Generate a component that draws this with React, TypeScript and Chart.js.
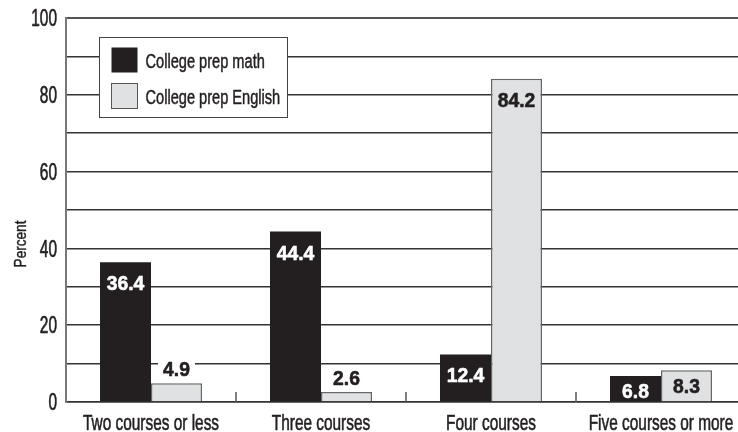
import React, { useEffect, useRef } from "react";
import { Chart, registerables } from "chart.js";

Chart.register(...registerables);

const categories = ["Two courses or less", "Three courses", "Four courses", "Five courses or more"];
const mathValues = [36.4, 44.4, 12.4, 6.8];
const englishValues = [4.9, 2.6, 84.2, 8.3];
const seriesNames = ["College prep math", "College prep English"];
const yTicks = [0, 20, 40, 60, 80, 100];
const yTitle = "Percent";

const FONT = '"Liberation Sans", Arial, sans-serif';
const INK = "#231f20";
const MATH_COLOR = "#231f20";
const ENGLISH_COLOR = "#e0e1e3";
const CAP = 0.716;

// draw condensed text: baseline at y (alphabetic)
function condText(
  ctx: CanvasRenderingContext2D,
  text: string,
  x: number,
  y: number,
  size: number,
  k: number,
  align: CanvasTextAlign,
  bold = false,
  rotate = 0,
  weight = 0.5
) {
  ctx.save();
  ctx.translate(x, y);
  if (rotate) ctx.rotate(rotate);
  ctx.scale(k, 1);
  ctx.font = `${bold ? "bold " : ""}${size}px ${FONT}`;
  ctx.textAlign = align;
  ctx.textBaseline = "alphabetic";
  ctx.fillText(text, 0, 0);
  if (weight > 0) {
    ctx.strokeStyle = ctx.fillStyle as string;
    ctx.lineWidth = weight;
    ctx.lineJoin = "round";
    ctx.strokeText(text, 0, 0);
  }
  ctx.restore();
}

function condWidth(ctx: CanvasRenderingContext2D, text: string, size: number, k: number, bold = false) {
  ctx.save();
  ctx.font = `${bold ? "bold " : ""}${size}px ${FONT}`;
  const w = ctx.measureText(text).width * k;
  ctx.restore();
  return w;
}

const axisText = {
  id: "axisText",
  afterDraw(chart: any) {
    const ctx = chart.ctx;
    const ys = chart.scales.y;
    const xs = chart.scales.x;
    const { left, bottom, top } = chart.chartArea;
    ctx.save();
    ctx.fillStyle = INK;
    const ty = 23;
    yTicks.forEach((v) => {
      const py = ys.getPixelForValue(v);
      condText(ctx, String(v), left - 9, py + (ty * CAP) / 2, ty, 0.67, "right", false, 0, 0.7);
    });
    categories.forEach((c, i) => {
      const px = xs.getPixelForValue(i);
      condText(ctx, c, px, bottom + 28, 22, 0.7, "center", false, 0, 0.6);
    });
    const midY = (top + bottom) / 2 + 34;
    condText(ctx, yTitle, 20.5 + (16 * CAP) / 2, midY, 16, 0.85, "center", false, -Math.PI / 2, 0.4);
    ctx.restore();
  },
};

const valueLabels = {
  id: "valueLabels",
  afterDatasetsDraw(chart: any) {
    const ctx = chart.ctx;
    const size = 21;
    const k = 0.92;
    ctx.save();
    chart.data.datasets.forEach((ds: any, di: number) => {
      const meta = chart.getDatasetMeta(di);
      meta.data.forEach((bar: any, i: number) => {
        const v = ds.data[i];
        const text = v.toFixed(1);
        const h = bar.base - bar.y;
        if (h >= 24) {
          const cy = bar.y + Math.min(20.5, Math.max(15, h / 2));
          ctx.fillStyle = di === 0 ? "#ffffff" : INK;
          condText(ctx, text, bar.x, cy + (size * CAP) / 2, size, k, "center", true, 0, 0.6);
        } else {
          const cy = bar.y - 15;
          const w = condWidth(ctx, text, size, k, true);
          ctx.fillStyle = "#ffffff";
          ctx.fillRect(bar.x - w / 2 - 5, cy - 10, w + 10, 20);
          ctx.fillStyle = INK;
          condText(ctx, text, bar.x, cy + (size * CAP) / 2, size, k, "center", true, 0, 0.6);
        }
      });
    });
    // category boundary tick marks (inward)
    const xs = chart.scales.x;
    const bottom = chart.chartArea.bottom;
    ctx.strokeStyle = "#555";
    ctx.lineWidth = 1.5;
    for (let i = 0; i < categories.length - 1; i++) {
      const x = (xs.getPixelForValue(i) + xs.getPixelForValue(i + 1)) / 2;
      ctx.beginPath();
      ctx.moveTo(x, bottom - 10);
      ctx.lineTo(x, bottom);
      ctx.stroke();
    }
    ctx.restore();
  },
};

const boxLegend = {
  id: "boxLegend",
  afterDraw(chart: any) {
    const ctx = chart.ctx;
    const { left, top } = chart.chartArea;
    const bx = left + 33.5;
    const by = top + 19.5;
    ctx.save();
    ctx.fillStyle = "#ffffff";
    ctx.fillRect(bx, by, 188, 80);
    ctx.strokeStyle = "#444";
    ctx.lineWidth = 1;
    ctx.strokeRect(bx, by, 188, 80);
    const colors = [MATH_COLOR, ENGLISH_COLOR];
    chart.data.datasets.forEach((ds: any, i: number) => {
      const sy = by + 10 + i * 36;
      ctx.fillStyle = colors[i];
      ctx.fillRect(bx + 12, sy, 26, 25);
      if (i === 1) {
        ctx.strokeStyle = "#555";
        ctx.lineWidth = 1;
        ctx.strokeRect(bx + 12, sy, 26, 25);
      }
      ctx.fillStyle = INK;
      const s = 20;
      condText(ctx, ds.label, bx + 46, sy + 12.5 + (s * CAP) / 2 + 0.5, s, 0.73, "left", false, 0, 0.5);
    });
    ctx.restore();
  },
};

export default function App() {
  const ref = useRef<HTMLCanvasElement | null>(null);
  useEffect(() => {
    if (!ref.current) return;
    const chart = new Chart(ref.current, {
      type: "bar",
      data: {
        labels: categories,
        datasets: [
          {
            label: seriesNames[0],
            data: mathValues,
            backgroundColor: MATH_COLOR,
            borderColor: MATH_COLOR,
            borderWidth: 0,
            barPercentage: 1,
            categoryPercentage: 0.6,
          },
          {
            label: seriesNames[1],
            data: englishValues,
            backgroundColor: ENGLISH_COLOR,
            borderColor: "#666",
            borderWidth: 1.5,
            barPercentage: 1,
            categoryPercentage: 0.6,
          },
        ],
      },
      options: {
        responsive: false,
        animation: false,
        devicePixelRatio: 1,
        layout: { padding: { left: 0, top: 18, right: 4, bottom: 0 } },
        plugins: {
          legend: { display: false },
          tooltip: { enabled: false },
        },
        scales: {
          x: {
            grid: { display: false, drawTicks: false },
            border: { display: true, color: "#333", width: 1.5 },
            ticks: { display: false },
            afterFit(scale: any) {
              scale.height = 30;
            },
          },
          y: {
            min: 0,
            max: 100,
            grid: {
              drawTicks: false,
              color: (c: any) => (c.tick && c.tick.value === 100 ? "#555" : "#333"),
              lineWidth: (c: any) => (c.tick && c.tick.value === 100 ? 2 : 1.5),
            },
            border: { display: true, color: "#777", width: 2 },
            ticks: { display: false, stepSize: 10 },
            afterFit(scale: any) {
              scale.width = 66;
            },
          },
        },
      },
      plugins: [valueLabels, boxLegend, axisText],
    });
    return () => chart.destroy();
  }, []);
  return (
    <div
      style={{
        position: "fixed",
        left: 0,
        top: 0,
        width: 738,
        height: 432,
        overflow: "hidden",
        background: "#fff",
      }}
    >
      <canvas ref={ref} width={750} height={432} style={{ display: "block", width: 750, height: 432 }} />
    </div>
  );
}
